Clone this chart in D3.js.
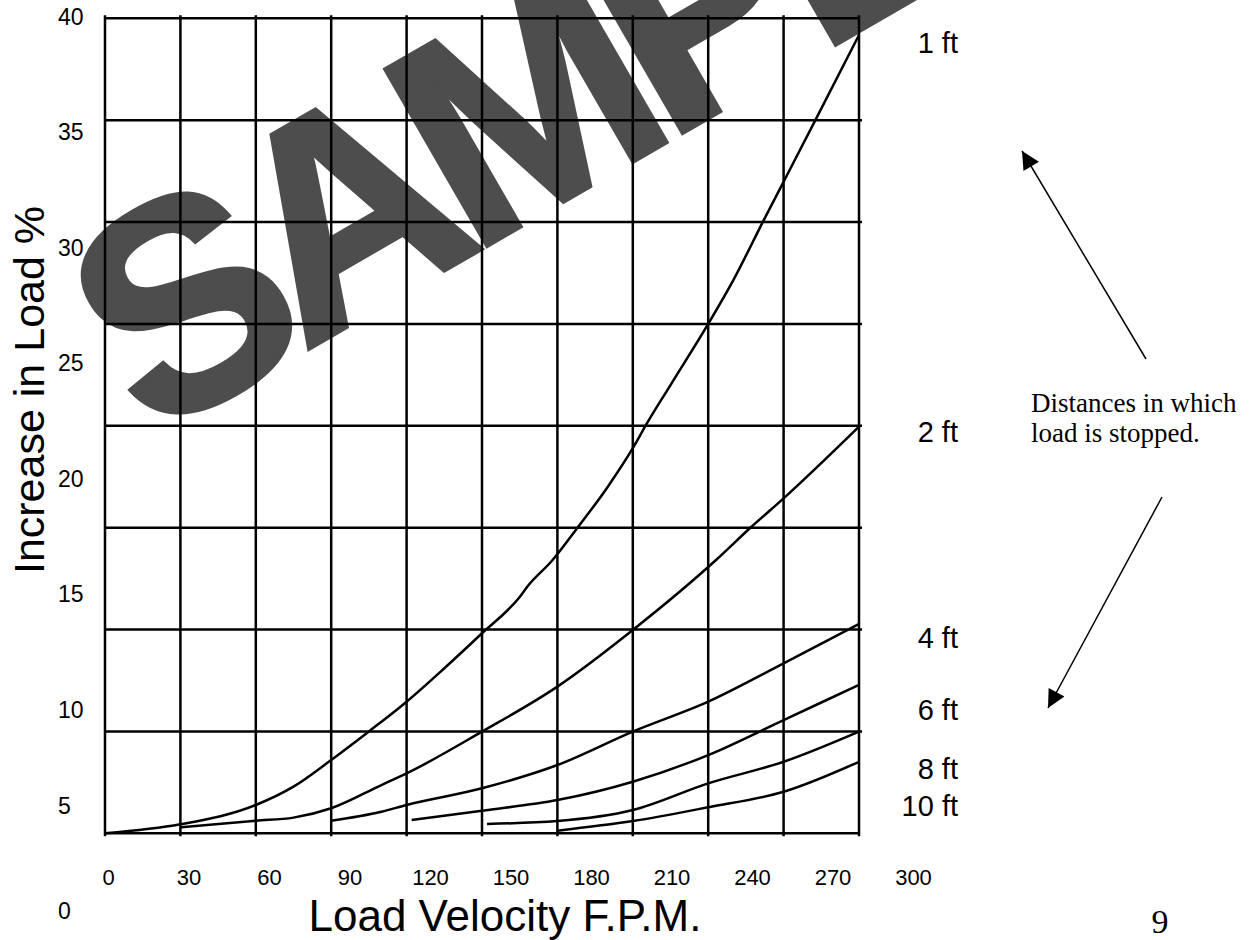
<!DOCTYPE html>
<html>
<head>
<meta charset="utf-8">
<script src="https://cdn.jsdelivr.net/npm/d3@7"></script>
<style>
  body { margin: 0; background: #fff; }
  svg { display: block; }
</style>
</head>
<body>
<div id="chart"></div>
<script>
// Data
const velocityTicks = [0, 30, 60, 90, 120, 150, 180, 210, 240, 270, 300];
const loadTicks = [0, 5, 10, 15, 20, 25, 30, 35, 40];
const distanceLabels = ["1 ft", "2 ft", "4 ft", "6 ft", "8 ft", "10 ft"];
const labelLoad = [38.8, 19.7, 9.6, 6.05, 3.2, 1.35];

const ft1Vel = [0, 30, 60, 75, 90, 105, 120, 135, 150, 165, 168, 178, 188, 200, 210, 216, 225, 240, 250, 262, 270, 283, 300];
const ft1Inc = [0, 0.44, 1.39, 2.29, 3.6, 5.0, 6.46, 8.1, 9.82, 11.6, 12.1, 13.4, 15.0, 17.0, 18.9, 20.2, 22.0, 25.0, 27.15, 30.07, 31.98, 35.09, 39.18];
const ft2Vel = [30, 60, 75, 90, 110, 120, 150, 180, 210, 243, 257, 270, 300];
const ft2Inc = [0.29, 0.62, 0.77, 1.23, 2.37, 2.94, 4.99, 7.2, 9.98, 13.4, 15.02, 16.44, 19.96];
const ft4Vel = [90, 110, 120, 150, 180, 210, 240, 270, 300];
const ft4Inc = [0.62, 1.06, 1.39, 2.21, 3.35, 4.99, 6.46, 8.34, 10.27];
const ft6Vel = [122, 150, 180, 210, 240, 270, 300];
const ft6Inc = [0.65, 1.11, 1.63, 2.53, 3.84, 5.56, 7.28];
const ft8Vel = [152, 180, 210, 240, 270, 300];
const ft8Inc = [0.46, 0.6, 1.14, 2.45, 3.51, 4.99];
const ft10Vel = [180, 210, 240, 270, 300];
const ft10Inc = [0.13, 0.6, 1.28, 2.04, 3.51];

document.addEventListener("DOMContentLoaded", () => {
  const width = 1254;
  const height = 940;
  const sans = "Arial, 'Liberation Sans', sans-serif";
  const serif = "'Times New Roman', 'Liberation Serif', serif";

  const svg = d3
    .select("#chart")
    .append("svg")
    .attr("width", width)
    .attr("height", height);

  svg.append("rect").attr("width", width).attr("height", height).attr("fill", "#fff");

  // Watermark (sits under everything)
  svg
    .append("text")
    .attr("transform", "translate(150, 440) rotate(-30)")
    .attr("font-family", sans)
    .attr("font-weight", "bold")
    .attr("font-size", 295)
    .attr("letter-spacing", -20)
    .attr("fill", "#4d4d4d")
    .attr("stroke", "#4d4d4d")
    .attr("stroke-width", 5)
    .attr("stroke-linejoin", "miter")
    .text("SAMPLE");

  // Scales
  const xScale = d3.scaleLinear().domain([0, 300]).range([105, 859]);
  const yScale = d3.scaleLinear().domain([0, 40]).range([833.3, 18.3]);
  // tick labels in the original are not lined up with the grid
  const xLabelScale = d3.scaleLinear().domain([0, 300]).range([108, 913]);
  const yLabelScale = d3.scaleLinear().domain([0, 5, 10, 40]).range([911, 806, 710, 17]);

  // Grid
  const grid = svg.append("g").attr("stroke", "#000").attr("stroke-width", 2.5);
  grid
    .selectAll("line.v")
    .data(velocityTicks)
    .enter()
    .append("line")
    .attr("class", "v")
    .attr("x1", (d) => xScale(d))
    .attr("x2", (d) => xScale(d))
    .attr("y1", yScale(40) - 3)
    .attr("y2", yScale(0) + 3);
  grid
    .selectAll("line.h")
    .data(loadTicks)
    .enter()
    .append("line")
    .attr("class", "h")
    .attr("x1", xScale(0))
    .attr("x2", (d) => (d === 40 || d === 0 ? xScale(300) : xScale(300) + 3))
    .attr("y1", (d) => yScale(d))
    .attr("y2", (d) => yScale(d));

  // Tick labels
  const xAxis = d3.axisBottom(xLabelScale).tickValues(velocityTicks).tickSize(0).tickPadding(0);
  const gx = svg.append("g").attr("transform", "translate(0, 869)").call(xAxis);
  gx.select(".domain").remove();
  gx.selectAll(".tick text").attr("font-family", sans).attr("font-size", 22).attr("fill", "#000");

  const yAxis = d3.axisRight(yLabelScale).tickValues(loadTicks).tickSize(0).tickPadding(0);
  const gy = svg.append("g").attr("transform", "translate(58, 0)").call(yAxis);
  gy.select(".domain").remove();
  gy.selectAll(".tick text").attr("font-family", sans).attr("font-size", 23).attr("fill", "#000");

  // Curves
  const series = [
    [ft1Vel, ft1Inc],
    [ft2Vel, ft2Inc],
    [ft4Vel, ft4Inc],
    [ft6Vel, ft6Inc],
    [ft8Vel, ft8Inc],
    [ft10Vel, ft10Inc],
  ];
  const line = d3
    .line()
    .x((d) => xScale(d[0]))
    .y((d) => yScale(d[1]))
    .curve(d3.curveMonotoneX);
  svg
    .selectAll("path.curve")
    .data(series)
    .enter()
    .append("path")
    .attr("class", "curve")
    .attr("d", (s) => line(d3.zip(s[0], s[1])))
    .attr("fill", "none")
    .attr("stroke", "#000")
    .attr("stroke-width", 2.5);

  // Curve labels
  svg
    .selectAll("text.dist")
    .data(distanceLabels)
    .enter()
    .append("text")
    .attr("class", "dist")
    .attr("x", 958)
    .attr("y", (d, i) => yScale(labelLoad[i]))
    .attr("dy", "0.36em")
    .attr("text-anchor", "end")
    .attr("font-family", sans)
    .attr("font-size", 29)
    .text((d) => d);

  // Axis titles
  svg
    .append("text")
    .attr("x", 505)
    .attr("y", 931)
    .attr("text-anchor", "middle")
    .attr("font-family", sans)
    .attr("font-size", 44)
    .text("Load Velocity F.P.M.");
  svg
    .append("text")
    .attr("transform", "translate(44, 390) rotate(-90)")
    .attr("text-anchor", "middle")
    .attr("font-family", sans)
    .attr("font-size", 43)
    .text("Increase in Load %");

  // Annotation
  const note = svg
    .append("text")
    .attr("font-family", serif)
    .attr("font-size", 27);
  note.append("tspan").attr("x", 1031).attr("y", 412).text("Distances in which");
  note.append("tspan").attr("x", 1031).attr("y", 442).text("load is stopped.");

  svg
    .append("defs")
    .append("marker")
    .attr("id", "head")
    .attr("viewBox", "0 0 10 10")
    .attr("refX", 10)
    .attr("refY", 5)
    .attr("markerWidth", 26)
    .attr("markerHeight", 18)
    .attr("markerUnits", "userSpaceOnUse")
    .attr("orient", "auto")
    .append("path")
    .attr("d", "M0,0 L10,5 L0,10 Z")
    .attr("fill", "#000");

  const arrows = [
    [1146, 359, 1022, 151],
    [1162, 497, 1048, 708],
  ];
  svg
    .selectAll("line.arrow")
    .data(arrows)
    .enter()
    .append("line")
    .attr("class", "arrow")
    .attr("x1", (d) => d[0])
    .attr("y1", (d) => d[1])
    .attr("x2", (d) => d[2])
    .attr("y2", (d) => d[3])
    .attr("stroke", "#000")
    .attr("stroke-width", 1.5)
    .attr("marker-end", "url(#head)");

  // Page number
  svg
    .append("text")
    .attr("x", 1160)
    .attr("y", 933)
    .attr("text-anchor", "middle")
    .attr("font-family", serif)
    .attr("font-size", 34)
    .text("9");
});
</script>
</body>
</html>
